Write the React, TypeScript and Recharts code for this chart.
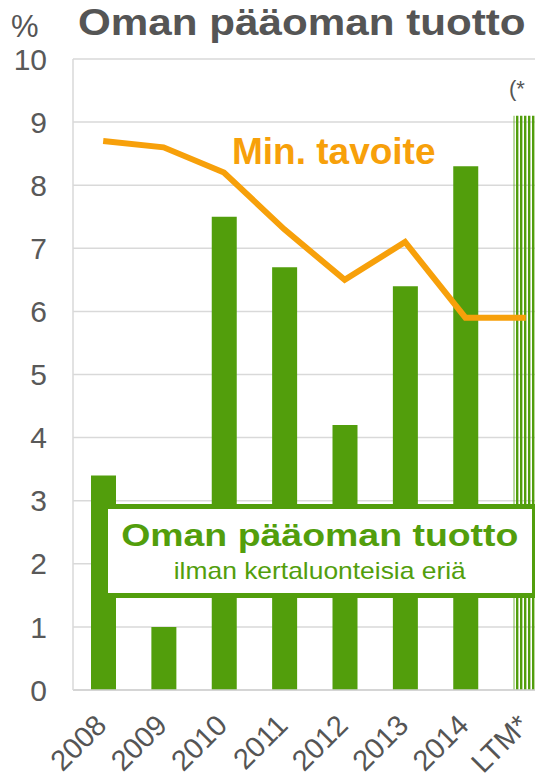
import React from 'react';
import { ComposedChart, Bar, Line, XAxis, YAxis, CartesianGrid, Cell } from 'recharts';

const categories = ['2008', '2009', '2010', '2011', '2012', '2013', '2014', 'LTM*'];
const roeValues = [3.4, 1.0, 7.5, 6.7, 4.2, 6.4, 8.3, 9.1];
const targetValues = [8.7, 8.6, 8.2, 7.3, 6.5, 7.1, 5.9, 5.9];
const yTicks = [0, 1, 2, 3, 4, 5, 6, 7, 8, 9, 10];

const GREEN = '#529e0c';
const ORANGE = '#f7a00a';
const GREY = '#555555';
const FONT = '"Liberation Sans", Arial, sans-serif';

const data = categories.map((c, i) => ({ name: c, roe: roeValues[i], target: targetValues[i] }));

const XTick = (props: any) => {
  const { x, y, payload } = props;
  return (
    <g transform={`translate(${x + 5},${y + 29})`}>
      <text textAnchor="end" transform="rotate(-45)" fill={GREY} fontSize={29} fontFamily={FONT}>
        {payload.value}
      </text>
    </g>
  );
};

const stretched = (scale: number): React.CSSProperties => ({
  display: 'inline-block',
  transform: `scaleX(${scale})`,
  transformOrigin: 'center',
  whiteSpace: 'nowrap',
});

export default function App() {
  return (
    <div style={{ position: 'relative', width: 543, height: 784, margin: -8, overflow: 'hidden', background: '#fff', fontFamily: FONT }}>
      <ComposedChart width={556} height={784} data={data} margin={{ top: 59, right: 0, bottom: 0, left: 0 }}>
        <defs>
          <pattern id="stripes" patternUnits="userSpaceOnUse" width={4} height={10}>
            <rect x={0} y={0} width={2.4} height={10} fill={GREEN} />
          </pattern>
        </defs>
        <CartesianGrid vertical={false} stroke="#d9d9d9" strokeWidth={1.5} />
        <XAxis
          dataKey="name"
          height={94}
          tick={<XTick />}
          tickLine={false}
          axisLine={{ stroke: '#d0d0d0', strokeWidth: 1.5 }}
          interval={0}
        />
        <YAxis
          domain={[0, 10]}
          ticks={yTicks}
          width={73}
          tickLine={false}
          axisLine={{ stroke: '#d9d9d9', strokeWidth: 1.5 }}
          tick={{ fill: '#595959', fontSize: 30, fontFamily: FONT }}
          tickMargin={20}
          interval={0}
        />
        <Bar dataKey="roe" barSize={25} isAnimationActive={false}>
          {data.map((d, i) => (
            <Cell key={d.name} fill={i === data.length - 1 ? 'url(#stripes)' : GREEN} />
          ))}
        </Bar>
        <Line dataKey="target" type="linear" stroke={ORANGE} strokeWidth={6} dot={false} isAnimationActive={false} />
      </ComposedChart>

      <div style={{ position: 'absolute', left: 11, top: 9, fontSize: 31, color: GREY }}>%</div>
      <div style={{ position: 'absolute', left: 78, top: 2, fontSize: 37, fontWeight: 'bold', color: GREY, whiteSpace: 'nowrap' }}>
        <span style={{ ...stretched(1.14), transformOrigin: 'left' }}>Oman pääoman tuotto</span>
      </div>
      <div style={{ position: 'absolute', left: 509, top: 76, fontSize: 22, color: GREY }}>(*</div>
      <div style={{ position: 'absolute', left: 232, top: 131, fontSize: 37, fontWeight: 'bold', color: ORANGE, whiteSpace: 'nowrap' }}>
        Min. tavoite
      </div>
      <div
        style={{
          position: 'absolute',
          left: 103,
          top: 504,
          width: 434,
          height: 94,
          boxSizing: 'border-box',
          border: `5px solid ${GREEN}`,
          background: '#fff',
          color: GREEN,
          textAlign: 'center',
        }}
      >
        <div style={{ fontSize: 32, fontWeight: 'bold', marginTop: 8, lineHeight: '36px' }}>
          <span style={stretched(1.17)}>Oman pääoman tuotto</span>
        </div>
        <div style={{ fontSize: 24, lineHeight: '28px', marginTop: 4 }}>
          <span style={stretched(1.1)}>ilman kertaluonteisia eriä</span>
        </div>
      </div>
    </div>
  );
}
